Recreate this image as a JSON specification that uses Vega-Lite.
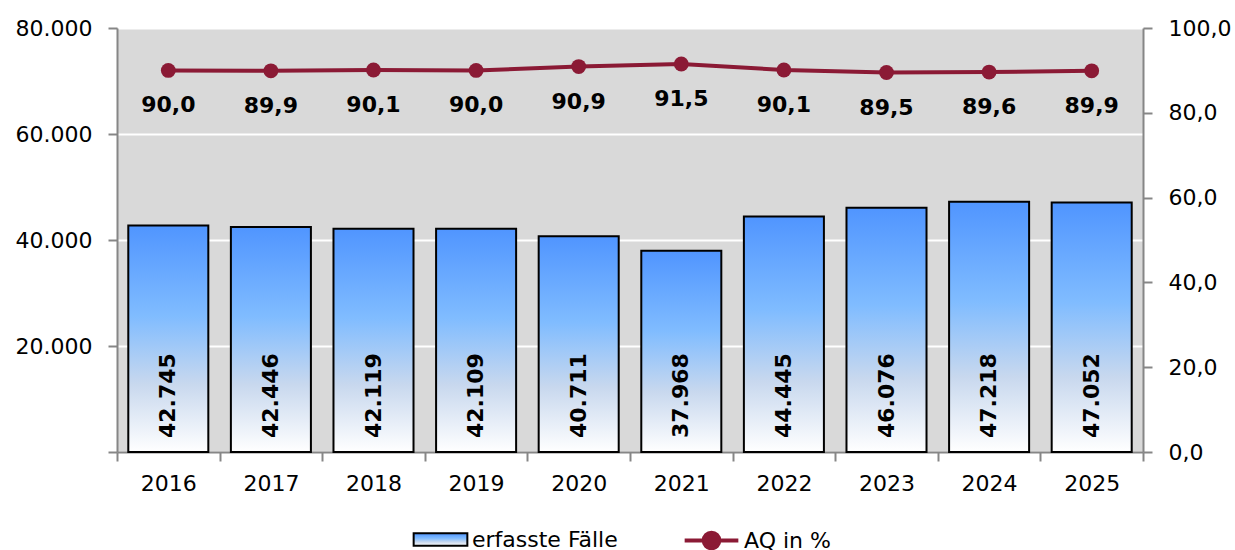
{
  "$schema": "https://vega.github.io/schema/vega-lite/v6.json",
  "autosize": "none",
  "width": 1026,
  "height": 424,
  "padding": {"left": 117, "top": 28, "right": 92, "bottom": 98},
  "background": "white",
  "config": {
    "locale": {"number": {"decimal": ",", "thousands": ".", "grouping": [3], "currency": ["", " €"]}},
    "view": {"fill": "#D9D9D9", "stroke": null},
    "font": "DejaVu Sans",
    "axis": {
      "labelFont": "DejaVu Sans",
      "labelFontSize": 22,
      "labelColor": "#000000",
      "domainColor": "#868686",
      "domainWidth": 2,
      "tickColor": "#868686",
      "tickWidth": 2,
      "tickSize": 9
    }
  },
  "data": {
    "values": [
      {"Jahr": "2016", "Faelle": 42745, "AQ": 90.0},
      {"Jahr": "2017", "Faelle": 42446, "AQ": 89.9},
      {"Jahr": "2018", "Faelle": 42119, "AQ": 90.1},
      {"Jahr": "2019", "Faelle": 42109, "AQ": 90.0},
      {"Jahr": "2020", "Faelle": 40711, "AQ": 90.9},
      {"Jahr": "2021", "Faelle": 37968, "AQ": 91.5},
      {"Jahr": "2022", "Faelle": 44445, "AQ": 90.1},
      {"Jahr": "2023", "Faelle": 46076, "AQ": 89.5},
      {"Jahr": "2024", "Faelle": 47218, "AQ": 89.6},
      {"Jahr": "2025", "Faelle": 47052, "AQ": 89.9}
    ]
  },
  "encoding": {
    "x": {
      "field": "Jahr",
      "type": "ordinal",
      "scale": {"paddingInner": 0, "paddingOuter": 0},
      "axis": {"title": null, "labelAngle": 0, "tickBand": "extent", "labelPadding": 12, "grid": false}
    }
  },
  "layer": [
    {
      "layer": [
        {
          "mark": {
            "type": "bar",
            "width": {"band": 0.78},
            "strokeWidth": 2,
            "fill": {"gradient": "linear", "x1": 0, "y1": 1, "x2": 0, "y2": 0,
                     "stops": [
                       {"offset": 0, "color": "#FFFFFF"},
                       {"offset": 0.3, "color": "#C8D8EE"},
                       {"offset": 0.6, "color": "#80BCFF"},
                       {"offset": 1, "color": "#5095FF"}
                     ]}
          },
          "encoding": {
            "y": {
              "field": "Faelle",
              "type": "quantitative",
              "scale": {"domain": [0, 80000]},
              "axis": {
                "title": null,
                "format": ",.0f",
                "values": [0, 20000, 40000, 60000, 80000],
                "labelExpr": "datum.value === 0 ? '' : datum.label",
                "grid": true,
                "gridColor": "#FFFFFF",
                "gridWidth": 2,
                "labelPadding": 16
              }
            },
            "stroke": {
              "datum": "erfasste Fälle",
              "type": "nominal",
              "scale": {"domain": ["erfasste Fälle"], "range": ["#000000"]},
              "legend": {
                "orient": "none",
                "legendX": 305,
                "legendY": 493,
                "direction": "horizontal",
                "title": null,
                "labelFontSize": 22,
                "labelFont": "DejaVu Sans",
                "labelColor": "#000000",
                "symbolType": "M-1.55,-0.36H1.55V0.36H-1.55Z",
                "symbolSize": 1200,
                "symbolStrokeWidth": 2,
                "labelOffset": 13
              }
            }
          }
        },
        {
          "mark": {"type": "text", "angle": 270, "align": "left", "baseline": "middle", "dx": 14, "fontSize": 22, "fontWeight": "bold", "color": "#000000"},
          "encoding": {
            "y": {"datum": 0, "type": "quantitative"},
            "text": {"field": "Faelle", "type": "quantitative", "format": ",.0f"}
          }
        }
      ]
    },
    {
      "layer": [
        {
          "mark": {"type": "line", "strokeWidth": 4, "point": {"size": 220, "filled": true, "fill": "#8B1A35"}},
          "encoding": {
            "y": {
              "field": "AQ",
              "type": "quantitative",
              "scale": {"domain": [0, 100]},
              "axis": {
                "orient": "right",
                "title": null,
                "format": ".1f",
                "values": [0, 20, 40, 60, 80, 100],
                "grid": false,
                "labelPadding": 16
              }
            },
            "color": {
              "datum": "AQ in %",
              "type": "nominal",
              "scale": {"domain": ["AQ in %"], "range": ["#8B1A35"]},
              "legend": {
                "orient": "none",
                "legendX": 575,
                "legendY": 493,
                "direction": "horizontal",
                "title": null,
                "labelFontSize": 22,
                "labelFont": "DejaVu Sans",
                "labelColor": "#000000",
                "symbolType": "M-1.55,0H1.55M-0.45,0A0.45,0.45 0 1,0 0.45,0A0.45,0.45 0 1,0 -0.45,0Z",
                "symbolSize": 1200,
                "symbolStrokeWidth": 4,
                "symbolFillColor": "#8B1A35",
                "labelOffset": 13
              }
            }
          }
        },
        {
          "mark": {"type": "text", "baseline": "middle", "dy": 35, "fontSize": 22, "fontWeight": "bold", "color": "#000000"},
          "encoding": {
            "y": {"field": "AQ", "type": "quantitative"},
            "text": {"field": "AQ", "type": "quantitative", "format": ".1f"}
          }
        }
      ]
    }
  ],
  "resolve": {"scale": {"y": "independent"}}
}
